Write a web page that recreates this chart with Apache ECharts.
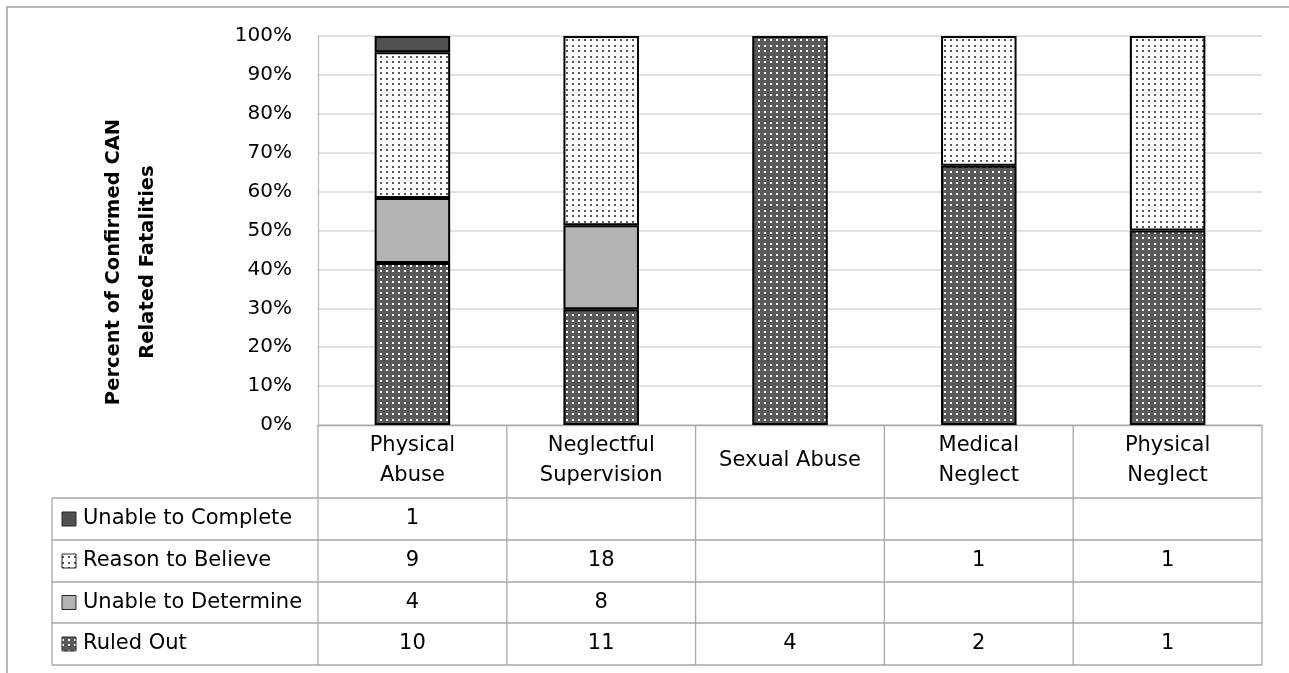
<!DOCTYPE html>
<html>
<head>
<meta charset="utf-8">
<script src="https://cdn.jsdelivr.net/npm/echarts@6/dist/echarts.min.js"></script>
<style>
html,body{margin:0;padding:0;background:#fff;}
#chart{width:1289px;height:673px;}
</style>
</head>
<body>
<div id="chart"></div>
<script>
// ---------------- DATA ----------------
const categories = ['Physical\nAbuse', 'Neglectful\nSupervision', 'Sexual Abuse', 'Medical\nNeglect', 'Physical\nNeglect'];
const ruledOut = [10, 11, 4, 2, 1];
const unableToDetermine = [4, 8, null, null, null];
const reasonToBelieve = [9, 18, null, 1, 1];
const unableToComplete = [1, null, null, null, null];
const yTickLabels = ['0%', '10%', '20%', '30%', '40%', '50%', '60%', '70%', '80%', '90%', '100%'];
const yAxisTitle = 'Percent of Confirmed CAN\nRelated Fatalities';

// ---------------- LAYOUT ----------------
const W = 1289, H = 673;
const PL = 318, PR = 1262, PT = 36, PB = 425;
const tableLeft = 52;
const headerBottom = 498;
const rowLines = [498, 540, 582, 623, 665];
const FONT = '"DejaVu Sans", sans-serif';

function makePattern(bg, dot) {
  const c = document.createElement('canvas');
  c.width = 6; c.height = 11;
  const g = c.getContext('2d');
  g.fillStyle = bg; g.fillRect(0, 0, 6, 11);
  g.fillStyle = dot;
  g.fillRect(2, 1, 2, 2);
  g.fillRect(2, 6, 2, 2);
  return c;
}
const patRuled = makePattern('#595959', '#ffffff');
const patReason = makePattern('#ffffff', '#595959');

const fills = {
  'Ruled Out': { image: patRuled, repeat: 'repeat' },
  'Unable to Determine': '#b3b3b3',
  'Reason to Believe': { image: patReason, repeat: 'repeat' },
  'Unable to Complete': '#505050'
};

const seriesDefs = [
  { name: 'Ruled Out', data: ruledOut },
  { name: 'Unable to Determine', data: unableToDetermine },
  { name: 'Reason to Believe', data: reasonToBelieve },
  { name: 'Unable to Complete', data: unableToComplete }
];
const tableOrder = ['Unable to Complete', 'Reason to Believe', 'Unable to Determine', 'Ruled Out'];

const totals = categories.map((_, i) =>
  seriesDefs.reduce((s, d) => s + (d.data[i] || 0), 0));

const series = seriesDefs.map(d => ({
  name: d.name,
  type: 'bar',
  stack: 'all',
  barWidth: '40%',
  data: d.data.map((v, i) => v == null ? null : v / totals[i] * 100),
  itemStyle: { color: fills[d.name], borderColor: '#000', borderWidth: 2 },
  emphasis: { disabled: true }
}));

// ---------------- TABLE GRAPHICS ----------------
const graphic = [];
const lineStyle = { stroke: '#a6a6a6', lineWidth: 1.3 };
function hline(x1, x2, y) {
  graphic.push({ type: 'line', shape: { x1: x1, y1: y, x2: x2, y2: y }, style: lineStyle, silent: true });
}
function vline(x, y1, y2) {
  graphic.push({ type: 'line', shape: { x1: x, y1: y1, x2: x, y2: y2 }, style: lineStyle, silent: true });
}
const n = categories.length;
const colW = (PR - PL) / n;
rowLines.forEach(y => hline(tableLeft, PR, y));
vline(tableLeft, headerBottom, rowLines[rowLines.length - 1]);
for (let k = 0; k <= n; k++) {
  vline(PL + k * colW, PB, rowLines[rowLines.length - 1]);
}
tableOrder.forEach((name, r) => {
  const y0 = rowLines[r], y1 = rowLines[r + 1];
  const cy = (y0 + y1) / 2;
  graphic.push({
    type: 'rect', shape: { x: 62, y: cy - 7, width: 14, height: 14 },
    style: { fill: fills[name], stroke: '#262626', lineWidth: 1 }, silent: true
  });
  graphic.push({
    type: 'text', x: 83, y: cy,
    style: { text: name, font: '21px ' + FONT, fill: '#000', align: 'left', verticalAlign: 'middle' }, silent: true
  });
  const data = seriesDefs.find(d => d.name === name).data;
  data.forEach((v, i) => {
    if (v == null) return;
    graphic.push({
      type: 'text', x: PL + (i + 0.5) * colW, y: cy,
      style: { text: String(v), font: '21px ' + FONT, fill: '#000', align: 'center', verticalAlign: 'middle' }, silent: true
    });
  });
});
graphic.push({
  type: 'text', x: 131, y: 262, rotation: Math.PI / 2,
  style: { text: yAxisTitle, font: 'bold 19.5px ' + FONT, fill: '#000', align: 'center', verticalAlign: 'middle', lineHeight: 34 },
  silent: true
});
graphic.push({
  type: 'polyline', shape: { points: [[7, H + 5], [7, 7], [W + 5, 7]] },
  style: { stroke: '#a0a0a0', lineWidth: 1.5, fill: null }, silent: true
});

// ---------------- CHART ----------------
const chart = echarts.init(document.getElementById('chart'), null, { renderer: 'canvas' });
chart.setOption({
  animation: false,
  backgroundColor: '#fff',
  grid: { left: PL, right: W - PR, top: PT, bottom: H - PB, containLabel: false },
  xAxis: {
    type: 'category',
    data: categories,
    axisLine: { show: true, lineStyle: { color: '#a6a6a6', width: 1.3 } },
    axisTick: { show: false },
    axisLabel: {
      interval: 0, margin: 36, verticalAlign: 'middle', lineHeight: 30,
      fontFamily: FONT, fontSize: 21, color: '#000'
    },
    splitLine: { show: false }
  },
  yAxis: {
    type: 'value',
    min: 0, max: 100, interval: 10,
    axisLine: { show: true, lineStyle: { color: '#bfbfbf', width: 1.3 } },
    axisTick: { show: false },
    axisLabel: {
      margin: 26, fontFamily: FONT, fontSize: 20, color: '#000',
      formatter: v => yTickLabels[Math.round(v / 10)]
    },
    splitLine: { show: true, lineStyle: { color: '#d9d9d9', width: 1.5 } }
  },
  series: series,
  graphic: graphic
});
</script>
</body>
</html>
